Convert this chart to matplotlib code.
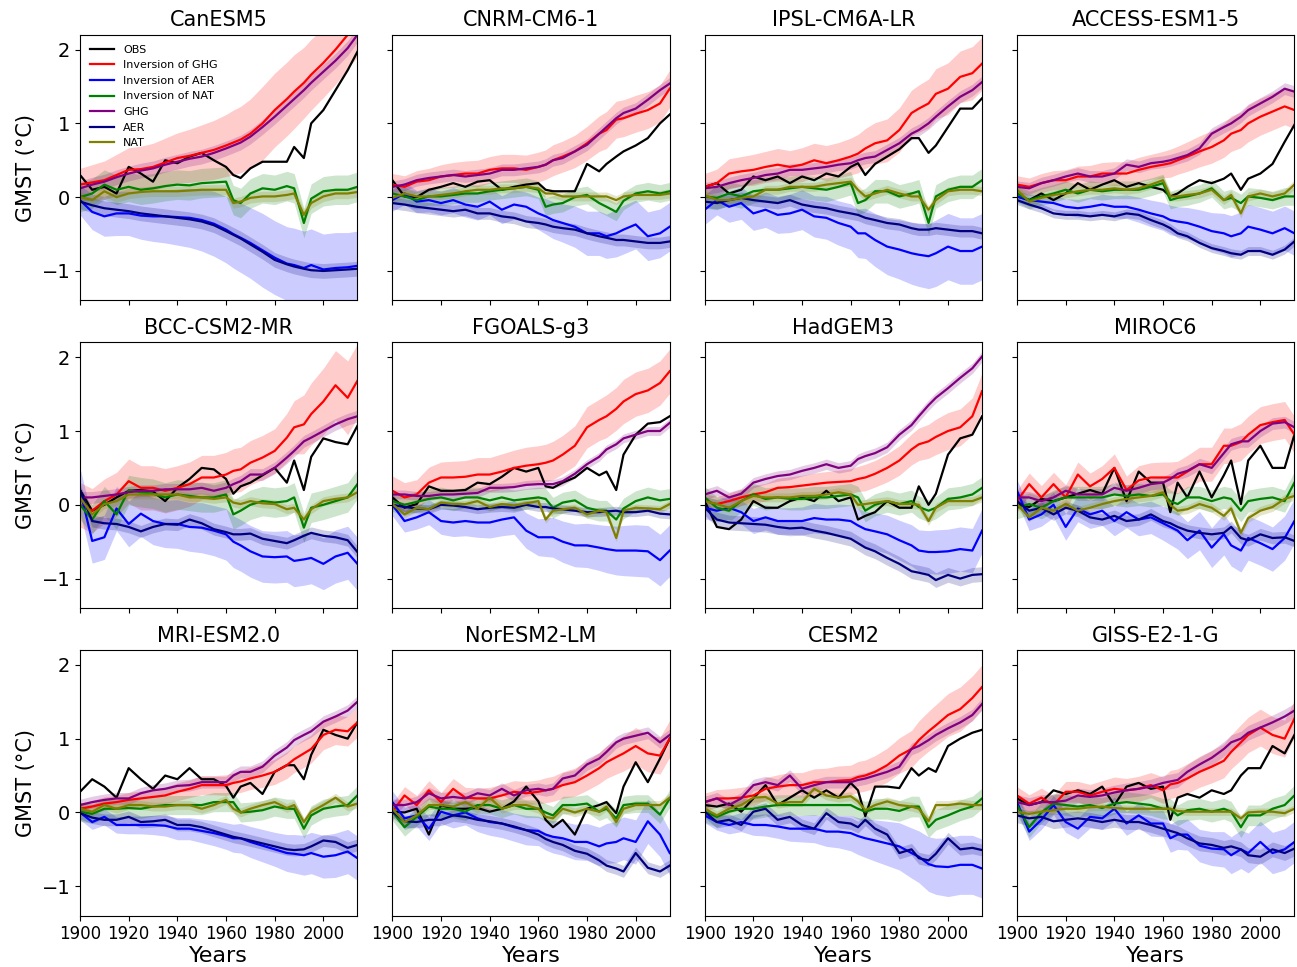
import numpy as np
import matplotlib
matplotlib.use("Agg")
import matplotlib.pyplot as plt

MODELS = ["CanESM5", "CNRM-CM6-1", "IPSL-CM6A-LR", "ACCESS-ESM1-5",
          "BCC-CSM2-MR", "FGOALS-g3", "HadGEM3", "MIROC6",
          "MRI-ESM2.0", "NorESM2-LM", "CESM2", "GISS-E2-1-G"]

YEARS = [1900, 1905, 1910, 1915, 1920, 1925, 1930, 1935, 1940, 1945, 1950, 1955, 1960,
         1963, 1966, 1970, 1975, 1980, 1985, 1988, 1992, 1995, 2000, 2005, 2010, 2014]

OBS = [
    [.3, .1, .14, .05, .41, .32, .21, .5, .46, .55, .6, .5, .41, .3, .26, .39, .48, .48, .48, .68, .53, 1.0, 1.18, 1.45, 1.72, 1.97],
    [.23, .01, 0, .1, .14, .19, .14, .21, .23, .1, .14, .17, .19, .1, .08, .08, .08, .45, .35, .45, .55, .62, .7, .8, 1.0, 1.12],
    [.14, .19, .05, .1, .28, .23, .28, .19, .28, .23, .32, .28, .41, .46, .3, .45, .55, .65, .8, .8, .6, .7, .95, 1.2, 1.2, 1.34],
    [.01, -.04, .05, -.04, .05, .19, .1, .17, .23, .14, .19, .14, .1, .01, .05, .14, .23, .19, .25, .32, .1, .25, .32, .45, .75, .98],
    [.2, -.08, 0, .1, .19, .2, .18, .05, .23, .35, .5, .48, .35, .15, .25, .3, .4, .5, .3, .6, .2, .65, .9, .85, .82, 1.07],
    [.1, -.04, .01, .25, .19, .19, .2, .3, .28, .38, .5, .45, .5, .25, .23, .3, .37, .5, .4, .45, .2, .68, .95, 1.1, 1.12, 1.2],
    [.05, -.3, -.33, -.2, .05, -.04, -.04, .05, .1, .05, .19, .05, .1, -.2, -.15, -.1, .05, -.04, -.04, .25, 0, .15, .68, .9, .95, 1.2],
    [.01, -.03, .08, .05, .1, .15, .2, .15, .5, .05, .45, .3, .3, -.1, .3, .1, .45, .1, .4, .6, .01, .6, .8, .5, .5, .95],
    [.28, .45, .35, .2, .6, .45, .32, .5, .45, .6, .45, .45, .36, .2, .35, .4, .25, .55, .64, .64, .45, .78, 1.12, 1.05, 1.0, 1.22],
    [.01, 0, .05, -.3, .1, .05, .05, .06, .01, .05, .15, .35, .15, -.1, -.2, -.1, -.3, .05, .1, .14, -.01, .35, .68, .41, .73, 1.0],
    [.1, .08, .12, .01, .19, .37, .1, .2, .3, .2, .3, .2, .4, .3, -.05, .35, .35, .33, .6, .5, .6, .55, .9, 1.0, 1.08, 1.12],
    [.19, .1, .14, .3, .25, .3, .25, .35, .1, .35, .4, .32, .35, -.1, .2, .25, .2, .3, .25, .3, .5, .6, .6, .9, .8, 1.05],
]

INV_GHG = [
    [.17, .2, .23, .3, .37, .38, .41, .47, .53, .56, .6, .64, .7, .74, .78, .86, 1.0, 1.18, 1.33, 1.43, 1.55, 1.66, 1.82, 2.0, 2.2, 2.35],
    [.17, .14, .21, .23, .28, .3, .32, .32, .37, .39, .39, .37, .41, .44, .5, .55, .62, .73, .86, .91, 1.05, 1.07, 1.13, 1.18, 1.27, 1.47],
    [.14, .19, .32, .35, .37, .41, .44, .41, .44, .5, .46, .5, .55, .59, .66, .73, .77, .91, 1.14, 1.2, 1.27, 1.4, 1.47, 1.63, 1.68, 1.81],
    [.17, .14, .19, .23, .23, .28, .28, .32, .32, .32, .37, .41, .44, .46, .5, .55, .62, .68, .77, .86, .91, 1.0, 1.09, 1.16, 1.23, 1.18],
    [0, -.08, .05, .14, .32, .23, .23, .19, .23, .28, .37, .37, .41, .46, .48, .57, .64, .73, .91, 1.05, 1.09, 1.23, 1.4, 1.62, 1.45, 1.68],
    [.19, .1, .14, .3, .37, .37, .38, .41, .41, .45, .5, .53, .55, .57, .6, .68, .8, 1.05, 1.15, 1.2, 1.3, 1.4, 1.5, 1.55, 1.65, 1.81],
    [.05, .01, .05, .1, .14, .17, .23, .24, .26, .28, .3, .31, .32, .35, .37, .42, .5, .6, .75, .82, .86, .92, 1.0, 1.05, 1.2, 1.54],
    [.05, .28, .1, .28, .1, .41, .25, .35, .5, .2, .33, .37, .37, .37, .37, .45, .55, .55, .8, .8, .85, .95, 1.08, 1.12, 1.15, .95],
    [.05, .08, .12, .14, .17, .19, .21, .23, .28, .32, .37, .37, .37, .4, .42, .46, .5, .55, .64, .72, .8, .86, 1.05, 1.12, 1.1, 1.22],
    [.01, .23, .1, .3, .14, .32, .2, .19, .19, .23, .28, .26, .28, .3, .32, .37, .41, .5, .6, .68, .75, .8, .9, .8, .77, 1.0],
    [.14, .19, .19, .2, .23, .32, .35, .37, .37, .41, .41, .43, .44, .48, .5, .55, .64, .77, .86, .98, 1.1, 1.18, 1.32, 1.4, 1.55, 1.7],
    [.23, .12, .2, .1, .28, .28, .23, .28, .32, .3, .32, .37, .3, .38, .4, .46, .55, .62, .7, .82, .95, 1.05, 1.15, 1.05, 1.0, 1.27],
]

INV_AER = [
    [-.04, -.2, -.26, -.22, -.22, -.25, -.26, -.26, -.27, -.28, -.31, -.36, -.44, -.5, -.55, -.62, -.72, -.82, -.9, -.92, -.96, -.92, -.98, -.96, -.95, -.93],
    [-.04, .05, -.06, -.04, -.08, -.04, -.1, -.13, -.06, -.17, -.1, -.13, -.22, -.26, -.31, -.35, -.4, -.49, -.49, -.53, -.49, -.44, -.37, -.53, -.49, -.4],
    [-.17, -.04, -.13, -.08, -.22, -.17, -.24, -.22, -.17, -.26, -.28, -.35, -.4, -.49, -.49, -.58, -.67, -.71, -.76, -.78, -.8, -.76, -.67, -.73, -.73, -.67],
    [.01, -.04, -.06, -.08, -.13, -.15, -.13, -.1, -.13, -.13, -.17, -.22, -.26, -.31, -.33, -.35, -.4, -.46, -.49, -.53, -.49, -.4, -.44, -.49, -.42, -.49],
    [.2, -.49, -.44, -.05, -.26, -.12, -.22, -.26, -.26, -.3, -.31, -.35, -.4, -.5, -.55, -.63, -.7, -.71, -.7, -.76, -.74, -.72, -.8, -.7, -.65, -.8],
    [0, -.22, -.17, -.1, -.22, -.24, -.22, -.24, -.24, -.2, -.17, -.35, -.44, -.44, -.44, -.5, -.55, -.55, -.58, -.6, -.62, -.62, -.62, -.63, -.75, -.62],
    [-.04, -.08, -.04, -.1, -.22, -.17, -.22, -.22, -.22, -.18, -.2, -.2, -.22, -.28, -.33, -.36, -.4, -.48, -.55, -.62, -.64, -.64, -.63, -.6, -.62, -.35],
    [.19, -.2, -.13, 0, -.3, -.05, -.13, -.08, -.22, -.1, -.2, -.17, -.25, -.3, -.35, -.48, -.35, -.58, -.4, -.55, -.62, -.45, -.52, -.6, -.45, -.22],
    [0, -.13, -.06, -.17, -.17, -.17, -.17, -.18, -.22, -.22, -.25, -.28, -.32, -.35, -.35, -.4, -.45, -.5, -.55, -.56, -.58, -.55, -.6, -.58, -.53, -.62],
    [.14, -.08, -.04, -.22, .01, -.04, 0, -.08, -.13, -.15, -.2, -.24, -.25, -.3, -.33, -.35, -.4, -.4, -.46, -.42, -.4, -.35, -.4, -.12, -.3, -.55],
    [-.04, -.13, -.17, -.13, -.17, -.17, -.19, -.22, -.22, -.22, -.26, -.26, -.28, -.32, -.35, -.38, -.42, -.46, -.55, -.6, -.7, -.73, -.74, -.71, -.71, -.76],
    [.14, -.26, -.1, .1, -.13, -.22, -.06, -.08, .05, -.15, -.04, -.15, -.15, -.35, -.3, -.3, -.45, -.49, -.5, -.58, -.5, -.55, -.4, -.55, -.5, -.4],
]

INV_NAT = [
    [0, .05, .17, .1, .14, .1, .12, .15, .17, .16, .19, .2, .21, -.04, -.08, .05, .12, .1, .15, .12, -.35, -.02, .08, .1, .1, .14],
    [.05, .01, -.04, .01, .01, .03, .05, .05, .08, .1, .12, .14, .1, -.13, -.1, -.08, 0, .03, -.08, -.13, -.2, -.05, .05, .08, .05, .08],
    [.01, -.01, .05, .01, .08, .1, .1, .12, .14, .12, .1, .14, .19, -.08, -.04, .08, .08, .01, .05, .08, -.35, .01, .1, .14, .14, .23],
    [.05, -.04, .01, .05, .1, .05, .1, .08, .1, .1, .1, .14, .19, -.04, -.01, .01, .05, .12, -.04, -.01, -.08, .01, -.01, -.04, .01, .01],
    [0, -.2, .05, -.13, .2, .17, .15, .1, .14, .12, .1, .1, .14, -.13, -.08, 0, .05, .03, .05, .1, -.31, -.04, 0, .05, .1, .28],
    [.05, 0, .04, .08, .1, .06, .1, .1, .06, .1, .06, .08, .1, .08, -.04, .03, .06, -.04, -.08, -.08, -.2, -.05, .05, .1, .06, .08],
    [.1, -.04, -.08, .05, .14, .08, .1, .08, .08, .1, .1, .12, .14, .1, -.08, 0, .05, .01, .05, -.03, -.08, -.04, .08, .1, .14, .23],
    [-.04, .01, -.04, .05, .1, .1, .1, .1, .14, .12, .14, .12, .14, .05, .01, .1, .1, .05, .1, .08, -.08, .05, .08, .1, .05, .3],
    [.01, -.02, .05, .05, .06, .05, .08, .1, .1, .1, .1, .14, .14, .14, 0, .01, .03, .08, .05, .05, -.22, -.04, .05, .08, .1, .23],
    [.01, -.2, -.06, .08, .05, .05, .01, .1, .1, .05, .1, .05, .05, 0, -.04, .1, .1, .12, .01, .05, -.08, .1, .12, .12, -.03, .19],
    [.01, -.06, .01, .05, .05, .08, .1, .1, .1, .1, .1, .1, .1, .05, .01, .05, .05, .02, .08, .08, -.2, -.1, -.04, .03, .08, .19],
    [.1, -.2, 0, .12, .1, .08, .1, .06, .12, .14, .12, .1, .05, .05, -.04, .03, .05, .01, .05, .01, -.2, -.04, -.04, .05, .1, .23],
]

GHG = [
    [.12, .17, .21, .27, .32, .36, .39, .44, .48, .52, .55, .6, .66, .7, .74, .82, .95, 1.09, 1.24, 1.33, 1.45, 1.55, 1.7, 1.85, 2.02, 2.2],
    [.14, .17, .23, .26, .28, .3, .28, .3, .32, .37, .37, .39, .41, .44, .5, .53, .62, .71, .86, .95, 1.07, 1.14, 1.2, 1.32, 1.45, 1.54],
    [.12, .14, .19, .23, .26, .3, .32, .37, .37, .39, .41, .44, .46, .5, .53, .55, .64, .73, .86, .91, 1.0, 1.09, 1.23, 1.36, 1.45, 1.56],
    [.14, .12, .19, .23, .28, .32, .28, .28, .32, .44, .41, .46, .48, .5, .53, .57, .66, .86, .95, 1.0, 1.09, 1.18, 1.27, 1.36, 1.47, 1.43],
    [.1, .1, .12, .14, .17, .19, .19, .21, .21, .21, .23, .19, .23, .28, .32, .41, .41, .5, .64, .73, .86, .91, 1.0, 1.09, 1.16, 1.2],
    [.14, .14, .12, .12, .14, .14, .15, .16, .23, .23, .24, .27, .28, .28, .28, .32, .42, .55, .65, .75, .82, .9, .95, 1.0, 1.0, 1.11],
    [.14, .19, .1, .15, .3, .35, .39, .41, .46, .5, .55, .5, .53, .62, .66, .7, .78, .95, 1.08, 1.2, 1.35, 1.45, 1.58, 1.72, 1.85, 2.01],
    [.1, .1, .05, .1, .19, .14, .14, .14, .23, .19, .23, .28, .3, .35, .42, .46, .55, .5, .7, .82, .86, .86, 1.0, 1.1, 1.12, 1.05],
    [.1, .14, .17, .19, .19, .26, .3, .32, .36, .37, .41, .41, .41, .5, .55, .55, .62, .77, .88, .98, 1.05, 1.1, 1.23, 1.3, 1.38, 1.5],
    [.1, .1, .14, .26, .19, .21, .19, .26, .23, .32, .23, .3, .32, .3, .32, .46, .5, .65, .73, .82, .95, 1.0, 1.04, 1.08, .95, 1.05],
    [.14, .19, .1, .19, .37, .41, .37, .5, .32, .37, .41, .41, .41, .44, .46, .5, .55, .62, .86, .9, .98, 1.05, 1.14, 1.22, 1.32, 1.47],
    [.14, .1, .14, .14, .16, .23, .21, .23, .27, .3, .32, .35, .4, .42, .44, .55, .65, .74, .86, .95, 1.0, 1.08, 1.15, 1.22, 1.3, 1.38],
]

AER = [
    [-.06, -.11, -.15, -.17, -.19, -.22, -.24, -.26, -.28, -.3, -.33, -.38, -.46, -.51, -.56, -.64, -.74, -.85, -.91, -.94, -.97, -.99, -1.0, -.99, -.98, -.97],
    [-.08, -.1, -.13, -.15, -.17, -.19, -.17, -.22, -.22, -.26, -.28, -.33, -.35, -.37, -.4, -.42, -.44, -.49, -.53, -.55, -.58, -.58, -.6, -.62, -.62, -.6],
    [-.06, -.08, -.04, -.01, -.04, -.06, -.08, -.04, -.1, -.13, -.15, -.19, -.22, -.24, -.28, -.31, -.35, -.37, -.42, -.44, -.44, -.42, -.44, -.46, -.46, -.49],
    [-.04, -.1, -.15, -.22, -.24, -.24, -.26, -.24, -.26, -.22, -.24, -.31, -.37, -.42, -.49, -.53, -.62, -.69, -.73, -.76, -.78, -.73, -.73, -.78, -.71, -.6],
    [.2, -.22, -.25, -.26, -.3, -.36, -.3, -.26, -.27, -.2, -.25, -.33, -.37, -.4, -.4, -.39, -.46, -.49, -.52, -.48, -.42, -.38, -.42, -.44, -.48, -.64],
    [0, -.03, -.05, -.06, 0, -.01, -.03, -.06, -.04, -.03, -.04, 0, -.03, -.03, -.05, -.06, -.08, -.1, -.1, -.09, -.08, -.1, -.1, -.08, -.12, -.13],
    [-.04, -.2, -.24, -.25, -.26, -.27, -.3, -.32, -.31, -.35, -.38, -.42, -.46, -.52, -.58, -.63, -.72, -.8, -.9, -.92, -.95, -1.02, -.95, -1.0, -.95, -.94],
    [.05, -.08, -.04, -.13, -.04, -.08, -.17, -.2, -.15, -.22, -.2, -.13, -.22, -.25, -.3, -.35, -.38, -.4, -.38, -.3, -.45, -.48, -.4, -.45, -.44, -.49],
    [-.01, -.07, -.1, -.1, -.06, -.13, -.12, -.1, -.17, -.17, -.2, -.25, -.3, -.33, -.35, -.38, -.42, -.46, -.5, -.51, -.5, -.46, -.38, -.4, -.48, -.44],
    [.01, -.12, -.13, -.1, -.1, -.04, -.06, -.1, -.12, -.15, -.19, -.24, -.3, -.36, -.4, -.44, -.52, -.56, -.65, -.72, -.76, -.8, -.55, -.75, -.8, -.72],
    [.01, -.13, -.1, -.17, .01, .05, -.1, -.06, -.17, -.22, -.01, -.13, -.15, -.2, -.1, -.22, -.3, -.55, -.5, -.62, -.65, -.56, -.35, -.5, -.48, -.51],
    [-.04, -.08, -.06, -.12, -.1, -.08, -.1, -.13, -.1, -.13, -.13, -.17, -.22, -.25, -.28, -.35, -.42, -.44, -.48, -.46, -.5, -.58, -.6, -.5, -.55, -.49],
]

NAT = [
    [0, -.04, .08, 0, .05, .07, .08, .08, .08, .09, .1, .1, .1, -.08, -.06, -.01, .01, .01, .03, .05, -.24, -.08, .01, .05, .05, .07],
    [-.01, .05, .01, .01, .03, .05, .08, .1, .1, .12, .12, .14, .12, .05, .05, .01, .01, .01, .01, .01, -.04, .01, .03, .03, .03, .05],
    [.03, -.04, -.04, -.01, .01, .1, .1, .14, .14, .14, .17, .19, .21, .1, .01, .05, .1, .05, .01, .01, -.17, -.04, .08, .1, .1, .08],
    [.1, -.06, -.01, .03, .05, .08, .1, .1, .12, .1, .12, .17, .23, .01, .01, .03, .05, .1, -.04, .03, -.22, .01, .05, .01, .05, .17],
    [.1, -.13, .01, .05, .14, .14, .14, .14, .14, .1, .1, .08, .1, .03, .01, .05, .02, .01, -.06, -.04, -.2, -.06, .05, .08, .1, .17],
    [.01, -.13, -.04, -.06, .03, .01, .01, .05, -.03, .01, -.01, .02, .05, -.2, -.08, -.06, -.04, -.13, -.08, -.1, -.45, -.08, -.04, -.05, -.06, .01],
    [.05, .01, -.04, .05, .12, .1, .1, .1, .12, .12, .14, .17, .14, 0, .01, .03, .05, .01, .01, 0, -.22, -.04, .05, .05, .05, .1],
    [.01, -.17, -.04, -.08, .01, -.08, -.04, .01, .05, .08, .1, .12, .17, 0, -.08, -.06, .01, -.04, -.15, -.05, -.38, -.18, -.08, -.03, .08, .12],
    [.05, .01, .1, .05, .1, .1, .08, .08, .1, .1, .05, .1, .17, .05, 0, .05, .1, .14, .06, .1, -.13, .01, .1, .2, .08, .12],
    [.05, -.13, -.04, .1, .1, .08, .14, .05, .2, .05, .1, .1, .05, -.06, -.08, .05, 0, .05, .01, .08, -.13, .05, .1, .1, .1, .2],
    [.05, -.04, .05, .1, .2, .21, .12, .14, .14, .32, .23, .2, .22, .15, .03, .1, .15, .1, .08, .05, -.12, .1, .1, .12, .1, .1],
    [.01, -.02, .01, .03, .05, .05, .07, .08, .06, .05, .05, .05, .05, .05, .02, .01, .01, .01, .01, .01, -.08, 0, .01, .01, -.01, .05],
]

# half-width of the shaded spread around the inverted GHG and AER series
INV_GHG_SPREAD = [
    [.22, .24, .26, .28, .3, .31, .32, .33, .34, .36, .38, .4, .42, .44, .45, .47, .5, .5, .5, .5, .48, .48, .47, .47, .46, .45],
    [.15, .15, .15, .16, .16, .17, .17, .18, .18, .19, .19, .2, .2, .2, .21, .21, .22, .23, .24, .25, .25, .25, .25, .25, .25, .25],
    [.18, .19, .2, .2, .21, .21, .22, .22, .23, .23, .24, .24, .25, .26, .27, .28, .29, .3, .31, .32, .33, .34, .35, .35, .36, .36],
    [.12, .12, .13, .13, .14, .14, .15, .15, .16, .16, .17, .17, .18, .19, .19, .2, .21, .22, .23, .24, .24, .25, .25, .25, .25, .25],
    [.3, .3, .3, .3, .3, .3, .3, .3, .3, .3, .3, .3, .3, .3, .3, .3, .3, .3, .33, .36, .4, .42, .45, .47, .5, .5],
    [.2, .2, .2, .21, .21, .22, .22, .23, .23, .24, .24, .25, .25, .25, .26, .26, .27, .28, .28, .29, .29, .3, .3, .3, .3, .3],
    [.1, .1, .11, .11, .12, .12, .13, .14, .14, .15, .15, .16, .17, .17, .18, .18, .19, .2, .21, .22, .23, .24, .25, .25, .25, .25],
    [.15, .15, .16, .16, .17, .17, .18, .18, .19, .19, .2, .2, .21, .21, .22, .22, .23, .23, .24, .24, .25, .25, .25, .25, .25, .25],
    [.08, .08, .09, .09, .1, .1, .11, .11, .12, .12, .13, .13, .14, .14, .15, .15, .16, .17, .18, .18, .19, .19, .2, .2, .2, .2],
    [.12, .12, .13, .13, .13, .14, .14, .14, .15, .15, .15, .16, .16, .17, .17, .18, .19, .2, .21, .22, .23, .24, .25, .25, .25, .25],
    [.12, .12, .13, .14, .14, .15, .16, .17, .17, .18, .19, .2, .2, .21, .21, .22, .23, .24, .25, .26, .27, .28, .29, .3, .3, .3],
    [.12, .12, .13, .13, .14, .14, .15, .15, .16, .16, .17, .17, .18, .19, .19, .2, .21, .22, .23, .23, .24, .24, .25, .25, .25, .25],
]

INV_AER_SPREAD = [
    [.2, .24, .27, .3, .3, .32, .34, .36, .38, .4, .42, .44, .45, .46, .47, .48, .5, .5, .5, .5, .5, .49, .48, .48, .47, .47],
    [.15, .15, .15, .16, .16, .17, .17, .18, .18, .19, .2, .2, .22, .24, .25, .26, .28, .3, .3, .3, .32, .33, .33, .33, .33, .33],
    [.2, .2, .21, .22, .23, .24, .25, .26, .27, .28, .29, .3, .31, .33, .34, .36, .38, .4, .42, .43, .44, .45, .45, .45, .45, .45],
    [.07, .08, .09, .1, .11, .12, .13, .14, .15, .16, .17, .18, .19, .2, .2, .21, .23, .25, .27, .28, .29, .3, .3, .3, .3, .3],
    [.3, .3, .3, .3, .31, .31, .32, .32, .33, .33, .34, .34, .35, .35, .35, .35, .35, .35, .35, .35, .35, .35, .35, .36, .36, .36],
    [.15, .15, .16, .17, .18, .19, .2, .2, .21, .22, .23, .24, .25, .26, .27, .28, .29, .3, .31, .32, .33, .34, .35, .35, .35, .35],
    [.15, .15, .16, .16, .17, .17, .18, .18, .19, .2, .2, .21, .22, .23, .24, .25, .26, .27, .28, .28, .29, .3, .3, .3, .3, .3],
    [.15, .15, .16, .17, .18, .18, .19, .2, .2, .21, .22, .22, .23, .24, .25, .25, .26, .27, .28, .28, .29, .3, .3, .3, .3, .3],
    [.1, .1, .11, .11, .12, .12, .13, .14, .15, .15, .16, .17, .18, .19, .2, .21, .22, .23, .25, .26, .27, .28, .29, .3, .3, .3],
    [.15, .15, .15, .16, .16, .17, .17, .18, .18, .19, .19, .2, .2, .21, .22, .23, .24, .25, .26, .27, .28, .29, .3, .3, .3, .3],
    [.1, .11, .12, .13, .14, .15, .16, .17, .18, .19, .2, .22, .24, .25, .26, .28, .3, .32, .34, .35, .37, .38, .4, .4, .4, .4],
    [.12, .12, .13, .13, .14, .14, .15, .15, .16, .16, .17, .17, .18, .19, .2, .21, .22, .23, .24, .25, .26, .27, .28, .28, .28, .28],
]

INV_NAT_SPREAD = [.2, .12, .16, .12, .2, .14, .15, .15, .13, .12, .14, .14]
GHG_SPREAD = [.1, .08, .08, .08, .08, .06, .07, .08, .08, .08, .08, .1]
AER_SPREAD = [.1, .08, .08, .06, .08, .06, .1, .08, .08, .08, .08, .1]
NAT_SPREAD = [.07, .06, .06, .06, .06, .05, .06, .06, .06, .06, .06, .05]

LABELS = ["OBS", "Inversion of GHG", "Inversion of AER", "Inversion of NAT", "GHG", "AER", "NAT"]
COLORS = ["black", "red", "blue", "green", "purple", "navy", "olive"]

fig, axes = plt.subplots(3, 4, figsize=(12.97, 9.67), dpi=100, sharex=True, sharey=True)
fig.subplots_adjust(left=0.0617, right=0.998, top=0.964, bottom=0.053, wspace=0.126, hspace=0.158)

yrs = np.array(YEARS)
for i, ax in enumerate(axes.flat):
    series = [OBS[i], INV_GHG[i], INV_AER[i], INV_NAT[i], GHG[i], AER[i], NAT[i]]
    arr = [np.array(s) for s in series]
    # shaded spreads
    sp_ghg = np.array(INV_GHG_SPREAD[i])
    sp_aer = np.array(INV_AER_SPREAD[i])
    ax.fill_between(yrs, arr[1] - sp_ghg, arr[1] + sp_ghg, color="red", alpha=0.2, lw=0)
    ax.fill_between(yrs, arr[2] - sp_aer, arr[2] + sp_aer, color="blue", alpha=0.2, lw=0)
    ax.fill_between(yrs, arr[3] - INV_NAT_SPREAD[i], arr[3] + INV_NAT_SPREAD[i], color="green", alpha=0.2, lw=0)
    ax.fill_between(yrs, arr[4] - GHG_SPREAD[i], arr[4] + GHG_SPREAD[i], color="purple", alpha=0.2, lw=0)
    ax.fill_between(yrs, arr[5] - AER_SPREAD[i], arr[5] + AER_SPREAD[i], color="navy", alpha=0.2, lw=0)
    ax.fill_between(yrs, arr[6] - NAT_SPREAD[i], arr[6] + NAT_SPREAD[i], color="olive", alpha=0.2, lw=0)
    for s, lab, col in zip(arr, LABELS, COLORS):
        ax.plot(yrs, s, color=col, lw=1.6, label=lab)
    ax.set_title(MODELS[i], fontsize=15)
    ax.set_xlim(1900, 2014)
    ax.set_ylim(-1.4, 2.2)
    ax.set_xticks([1900, 1920, 1940, 1960, 1980, 2000])
    ax.set_yticks([-1, 0, 1, 2])
    ax.tick_params(axis="x", labelsize=12)
    ax.tick_params(axis="y", labelsize=14)
    if i % 4 == 0:
        ax.set_ylabel("GMST (°C)", fontsize=15)
    if i >= 8:
        ax.set_xlabel("Years", fontsize=16, labelpad=2)
    if i == 0:
        ax.legend(loc="upper left", fontsize=8, frameon=False, handlelength=2.2)

fig.savefig("out.png", dpi=100)
